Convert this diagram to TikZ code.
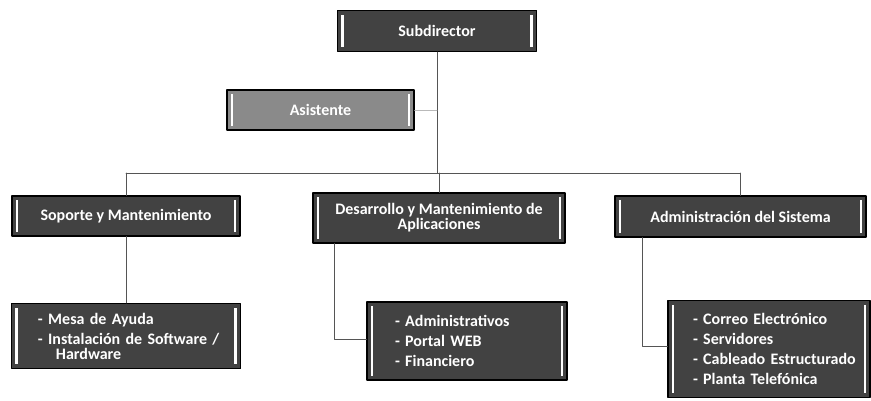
\documentclass[tikz,border=0pt]{standalone}
\usepackage{fontspec}
\setmainfont{Carlito}
\usetikzlibrary{positioning}

\definecolor{boxgray}{HTML}{424242}
\definecolor{asigray}{HTML}{8A8A8A}
\definecolor{linegray}{HTML}{555555}

\begin{document}
\begin{tikzpicture}[x=1pt, y=-1pt, line cap=round, line join=round,
    unit/.style={draw=black, line width=1.1pt, fill=boxgray, text=white,
        font=\fontsize{16}{15}\selectfont\bfseries, align=center,
        inner sep=0pt},
    tasks/.style={unit, align=left, font=\fontsize{16}{20}\selectfont\bfseries},
    link/.style={draw=linegray, line width=0.8pt}]

    \useasboundingbox (0,0) rectangle (871,401);

    % top of the chart
    \node[unit, minimum width=199pt, minimum height=41pt] (sub) at (437,31) {Subdirector};
    \node[unit, fill=asigray, minimum width=187pt, minimum height=40pt] (asi) at (320.5,110) {Asistente};

    % the three areas
    \node[unit, minimum width=228pt, minimum height=40pt] (sop) at (126,216) {Soporte y Mantenimiento};
    \node[unit, minimum width=252pt, minimum height=50pt] (des) at (439,218) {Desarrollo y Mantenimiento de\\Aplicaciones};
    \node[unit, minimum width=251pt, minimum height=41pt] (adm) at (740.5,216.5) {Administración del Sistema};

    % what each area does
    \node[tasks, minimum width=229pt, minimum height=65pt, text width=200pt] (mesa) at (126,336)
        {\hspace*{12pt}- Mesa de Ayuda\\\hspace*{12pt}- Instalación de Software /\\[-5pt]\hspace*{30pt}Hardware};
    \node[tasks, minimum width=200pt, minimum height=78pt, text width=170pt] (apl) at (467,341)
        {\hspace*{13pt}- Administrativos\\\hspace*{13pt}- Portal WEB\\\hspace*{13pt}- Financiero};
    \node[tasks, minimum width=202pt, minimum height=97pt, text width=180pt] (sis) at (769,349)
        {\hspace*{14pt}- Correo Electrónico\\\hspace*{14pt}- Servidores\\\hspace*{14pt}- Cableado Estructurado\\\hspace*{14pt}- Planta Telefónica};

    % white bars at the sides of every box
    \foreach \n in {sub,asi,sop,des,adm,mesa,apl,sis} {
        \fill[white] ([xshift=4.5pt,yshift=-5pt]\n.north west) rectangle ([xshift=7pt,yshift=5pt]\n.south west);
        \fill[white] ([xshift=-7pt,yshift=-5pt]\n.north east) rectangle ([xshift=-4.5pt,yshift=5pt]\n.south east);
    }

    % connectors
    \coordinate (bus) at (0,173);
    \draw[link] (sub.south) -- (sub.south |- bus);
    \draw[draw=asigray!60, line width=0.6pt] (asi.east) -- (asi.east -| sub.south);
    \draw[link] (sop.north |- bus) -- (adm.north |- bus);
    \draw[link] (sop.north |- bus) -- (sop.north);
    \draw[link] (des.north |- bus) -- (des.north);
    \draw[link] (adm.north |- bus) -- (adm.north);
    \draw[link] (sop.south) -- (mesa.north);
    \draw[link] ([xshift=22pt]des.south west) |- ([yshift=2pt]apl.west);
    \draw[link] ([xshift=28pt]adm.south west) |- ([yshift=3pt]sis.west);

\end{tikzpicture}
\end{document}
